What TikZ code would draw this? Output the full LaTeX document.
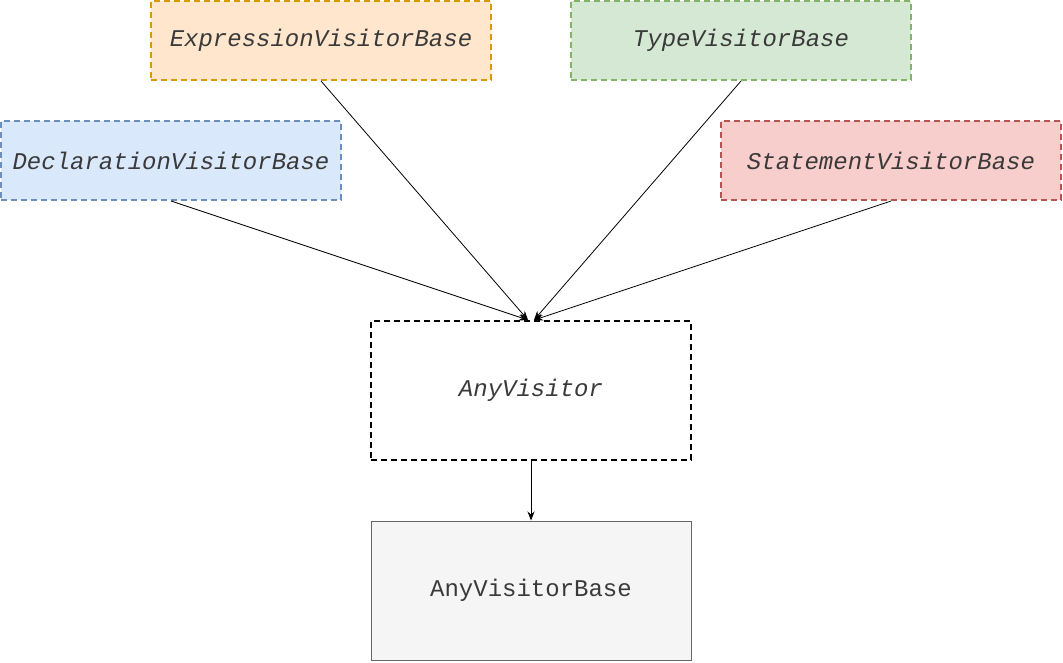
\documentclass[tikz,border=0pt]{standalone}
\usepackage{fontspec}
\setmonofont{Liberation Mono}
\usetikzlibrary{arrows.meta}
\definecolor{orF}{HTML}{FFE6CC}\definecolor{orD}{HTML}{D79B00}
\definecolor{grF}{HTML}{D5E8D4}\definecolor{grD}{HTML}{82B366}
\definecolor{blF}{HTML}{DAE8FC}\definecolor{blD}{HTML}{6C8EBF}
\definecolor{rdF}{HTML}{F8CECC}\definecolor{rdD}{HTML}{B85450}
\definecolor{gyF}{HTML}{F5F5F5}\definecolor{gyD}{HTML}{666666}
\definecolor{txt}{HTML}{3A3A3A}
\begin{document}
\begin{tikzpicture}[x=1pt,y=-1pt,
  box/.style={draw, line width=2pt, dash pattern=on 6pt off 4pt, minimum width=340pt, minimum height=79pt,
    inner sep=0pt, font=\fontsize{24}{28}\selectfont\ttfamily\itshape, text=txt},
  big/.style={minimum width=320pt, minimum height=139pt},
  conn/.style={line width=0.8pt, -{Stealth[length=9pt,width=7pt]}}]
\useasboundingbox (0,0) rectangle (1063,662);
\node[box, fill=orF, draw=orD] (e) at (321,40.5) {ExpressionVisitorBase};
\node[box, fill=grF, draw=grD] (t) at (741,40.5) {TypeVisitorBase};
\node[box, fill=blF, draw=blD] (d) at (171,160.5) {DeclarationVisitorBase};
\node[box, fill=rdF, draw=rdD] (s) at (891,160.5) {StatementVisitorBase};
\node[box, big, fill=white, draw=black] (av) at (531,390.5) {AnyVisitor};
\node[box, big, solid, line width=1pt, fill=gyF, draw=gyD, font=\fontsize{24}{28}\selectfont\ttfamily] (avb) at (531,590.5) {AnyVisitorBase};
\draw[conn] (d.south) -- ([xshift=-3pt]av.north);
\draw[conn] (e.south) -- ([xshift=-3pt]av.north);
\draw[conn] (t.south) -- ([xshift=3pt]av.north);
\draw[conn] (s.south) -- ([xshift=3pt]av.north);
\draw[conn] (av.south) -- (avb.north);
\end{tikzpicture}
\end{document}
